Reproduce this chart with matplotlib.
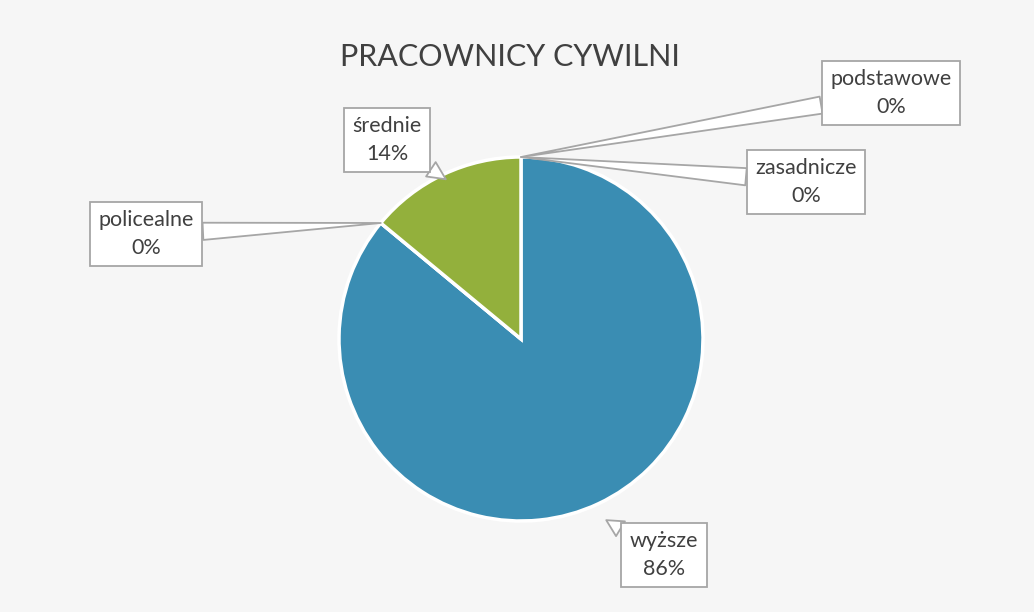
import numpy as np
import matplotlib.pyplot as plt

# data
kategorie = ['podstawowe', 'zasadnicze', 'wyższe', 'policealne', 'średnie']
procenty = [0, 0, 86, 0, 14]
kolory = ['#e07b39', '#a5a5a5', '#3a8db3', '#f2b72e', '#93b03c']

# label box centres (pixels from top-left)
pozycje = {
    'podstawowe': (891, 93),
    'zasadnicze': (806, 182),
    'wyższe': (664, 555),
    'policealne': (146, 234),
    'średnie': (387, 140),
}

W, H = 1034, 612
fig = plt.figure(figsize=(W / 100, H / 100), dpi=100, facecolor='#f6f6f6')
ax = fig.add_axes([0, 0, 1, 1])

cx, cy, r = 521, H - 339, 182
wedges, _ = ax.pie(procenty, colors=kolory, startangle=90, counterclock=False,
                   center=(cx, cy), radius=r,
                   wedgeprops=dict(edgecolor='white', linewidth=2.5))
ax.set_xlim(0, W)
ax.set_ylim(0, H)
ax.set_aspect('equal')
ax.axis('off')

ax.text(510, H - 57, 'PRACOWNICY CYWILNI', ha='center', va='center',
        fontsize=22, color='#404040', family='Lato')

for w, nazwa, p in zip(wedges, kategorie, procenty):
    if p == 0:
        # zero slices: point at the slice boundary
        kat = np.deg2rad(w.theta1)
        rr = r
    else:
        kat = np.deg2rad((w.theta1 + w.theta2) / 2)
        rr = r * (1.1 if nazwa == 'wyższe' else 0.97)
    tip = (cx + rr * np.cos(kat), cy + rr * np.sin(kat))
    bx, by = pozycje[nazwa]
    ax.annotate(f'{nazwa}\n{p}%', xy=tip, xytext=(bx, H - by),
                ha='center', va='center', fontsize=15.5, color='#404040',
                family='Lato', linespacing=1.45,
                bbox=dict(boxstyle='square,pad=0.4', fc='white', ec='#a6a6a6', lw=1.3),
                arrowprops=dict(arrowstyle='wedge,tail_width=0.8', fc='white',
                                ec='#a6a6a6', lw=1.3, shrinkA=0, shrinkB=0))

fig.savefig('out.png', dpi=100, facecolor=fig.get_facecolor())
